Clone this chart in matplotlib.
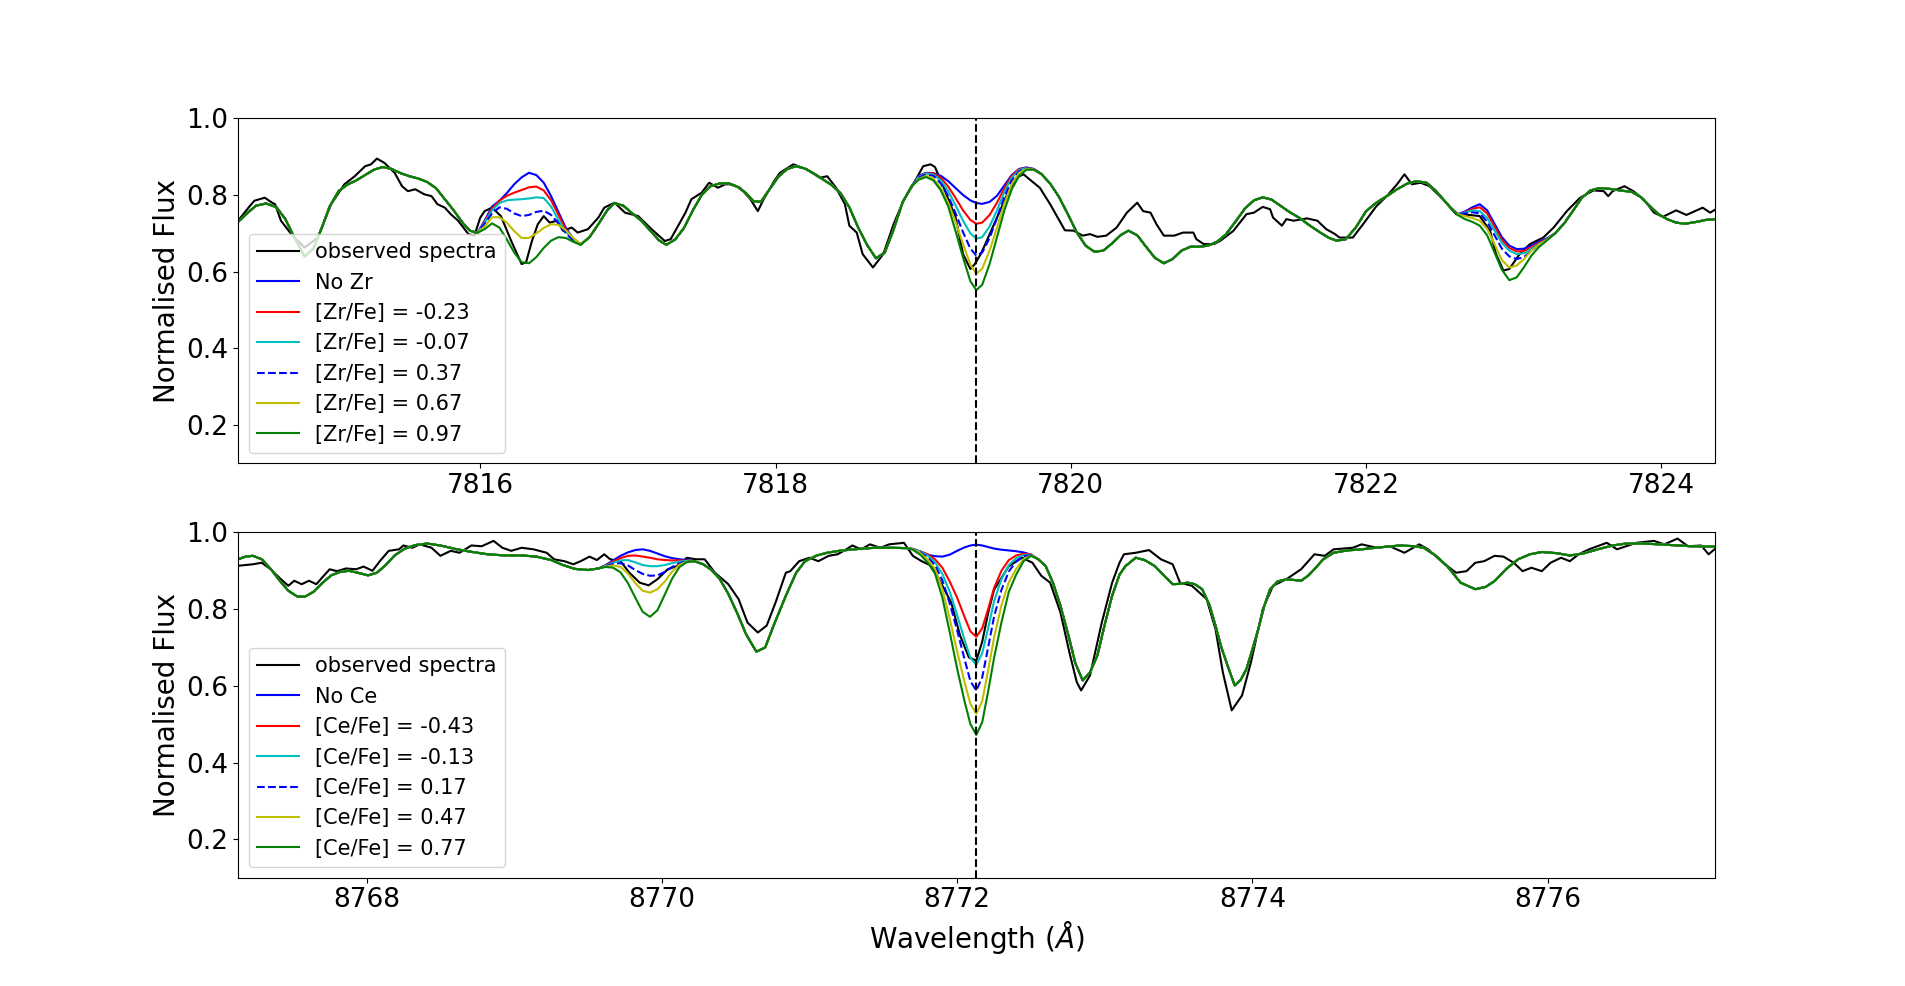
import numpy as np
import matplotlib
matplotlib.use("Agg")
import matplotlib.pyplot as plt

# ---------------- Top panel (Zr) ----------------
zr_line = 7819.36

zr_obs_wl = [7814.36, 7814.43, 7814.47, 7814.54, 7814.59, 7814.61, 7814.65, 7814.72, 7814.81, 7814.90,
             7814.99, 7815.08, 7815.15, 7815.22, 7815.26, 7815.30, 7815.35, 7815.42, 7815.47, 7815.51,
             7815.56, 7815.62, 7815.67, 7815.71, 7815.76, 7815.80, 7815.85, 7815.92, 7815.96, 7816.00,
             7816.03, 7816.08, 7816.14, 7816.21, 7816.28, 7816.31, 7816.35, 7816.39, 7816.43, 7816.47,
             7816.52, 7816.56, 7816.62, 7816.66, 7816.73, 7816.80, 7816.84, 7816.91, 7816.98, 7817.07,
             7817.16, 7817.25, 7817.29, 7817.39, 7817.43, 7817.50, 7817.55, 7817.61, 7817.66, 7817.69,
             7817.76, 7817.83, 7817.88, 7817.92, 7817.99, 7818.03, 7818.12, 7818.21, 7818.30, 7818.35,
             7818.41, 7818.47, 7818.50, 7818.55, 7818.59, 7818.66, 7818.73, 7818.80, 7818.87, 7818.92,
             7819.00, 7819.05, 7819.08, 7819.14, 7819.22, 7819.27, 7819.32, 7819.35, 7819.39, 7819.43,
             7819.50, 7819.57, 7819.63, 7819.68, 7819.72, 7819.79, 7819.86, 7819.93, 7819.96, 7820.02,
             7820.08, 7820.13, 7820.18, 7820.24, 7820.31, 7820.38, 7820.45, 7820.49, 7820.54, 7820.58,
             7820.63, 7820.70, 7820.76, 7820.83, 7820.85, 7820.90, 7820.97, 7821.01, 7821.10, 7821.19,
             7821.24, 7821.30, 7821.35, 7821.37, 7821.43, 7821.46, 7821.51, 7821.60, 7821.67, 7821.73,
             7821.79, 7821.82, 7821.91, 7821.98, 7822.07, 7822.14, 7822.21, 7822.26, 7822.31, 7822.37,
             7822.43, 7822.52, 7822.61, 7822.70, 7822.77, 7822.84, 7822.88, 7822.93, 7822.97, 7823.04,
             7823.11, 7823.20, 7823.27, 7823.36, 7823.45, 7823.54, 7823.61, 7823.64, 7823.67, 7823.75,
             7823.81, 7823.88, 7823.95, 7824.01, 7824.10, 7824.17, 7824.28, 7824.33, 7824.37]
zr_obs_fl = [0.733, 0.767, 0.785, 0.793, 0.780, 0.776, 0.733, 0.698, 0.663, 0.689,
             0.776, 0.828, 0.849, 0.875, 0.880, 0.895, 0.884, 0.858, 0.823, 0.810,
             0.815, 0.802, 0.797, 0.776, 0.767, 0.750, 0.733, 0.698, 0.694, 0.741,
             0.758, 0.767, 0.745, 0.680, 0.620, 0.624, 0.680, 0.724, 0.745, 0.728,
             0.733, 0.707, 0.715, 0.702, 0.711, 0.741, 0.767, 0.780, 0.754, 0.745,
             0.711, 0.680, 0.685, 0.754, 0.789, 0.806, 0.832, 0.819, 0.828, 0.828,
             0.819, 0.789, 0.758, 0.789, 0.836, 0.858, 0.880, 0.867, 0.845, 0.849,
             0.819, 0.776, 0.720, 0.702, 0.646, 0.611, 0.646, 0.724, 0.789, 0.819,
             0.875, 0.880, 0.873, 0.819, 0.741, 0.646, 0.607, 0.620, 0.646, 0.680,
             0.741, 0.802, 0.845, 0.854, 0.841, 0.819, 0.776, 0.728, 0.708, 0.707,
             0.694, 0.698, 0.691, 0.694, 0.715, 0.754, 0.780, 0.758, 0.754, 0.724,
             0.694, 0.694, 0.702, 0.702, 0.685, 0.672, 0.672, 0.680, 0.706, 0.750,
             0.754, 0.769, 0.763, 0.741, 0.720, 0.737, 0.733, 0.739, 0.733, 0.711,
             0.698, 0.689, 0.689, 0.724, 0.771, 0.797, 0.828, 0.854, 0.828, 0.832,
             0.823, 0.789, 0.750, 0.748, 0.745, 0.706, 0.646, 0.603, 0.607, 0.646,
             0.672, 0.689, 0.715, 0.758, 0.793, 0.812, 0.810, 0.797, 0.810, 0.823,
             0.810, 0.789, 0.754, 0.743, 0.760, 0.748, 0.767, 0.754, 0.763]

# common synthetic spectrum (identical for all Zr abundances outside the Zr features)
zr_base_wl = [7814.36, 7814.42, 7814.48, 7814.55, 7814.62, 7814.68, 7814.74, 7814.81, 7814.87, 7814.93,
              7814.98, 7815.04, 7815.10, 7815.16, 7815.22, 7815.28, 7815.34, 7815.40, 7815.46, 7815.52,
              7815.58, 7815.64, 7815.70, 7815.76, 7815.82, 7815.88, 7815.93,
              7816.74, 7816.80, 7816.86, 7816.91, 7816.97, 7817.03, 7817.09, 7817.15, 7817.21, 7817.26,
              7817.32, 7817.38, 7817.44, 7817.50, 7817.56, 7817.62, 7817.68, 7817.74, 7817.80, 7817.85,
              7817.90, 7817.96, 7818.02, 7818.08, 7818.14, 7818.20, 7818.26, 7818.32, 7818.38, 7818.44,
              7818.50, 7818.56, 7818.62, 7818.68, 7818.74, 7818.80, 7818.86, 7818.92,
              7819.80, 7819.86, 7819.92, 7819.98, 7820.04, 7820.10, 7820.16, 7820.22, 7820.28, 7820.34,
              7820.39, 7820.45, 7820.51, 7820.57, 7820.63, 7820.69, 7820.75, 7820.81, 7820.87, 7820.93,
              7820.99, 7821.05, 7821.12, 7821.18, 7821.24, 7821.30, 7821.36, 7821.42, 7821.48, 7821.55,
              7821.62, 7821.69, 7821.75, 7821.80, 7821.86, 7821.93, 7822.00, 7822.07, 7822.14, 7822.21,
              7822.28, 7822.34, 7822.41, 7822.47, 7822.52, 7822.57,
              7823.28, 7823.34, 7823.40, 7823.46, 7823.52, 7823.58, 7823.65, 7823.72, 7823.80, 7823.86,
              7823.92, 7823.98, 7824.04, 7824.10, 7824.16, 7824.24, 7824.30, 7824.37]
zr_base_fl = [0.730, 0.752, 0.772, 0.778, 0.768, 0.737, 0.690, 0.640, 0.660, 0.718,
              0.770, 0.810, 0.827, 0.838, 0.852, 0.866, 0.873, 0.868, 0.857, 0.849,
              0.843, 0.834, 0.818, 0.789, 0.760, 0.728, 0.707,
              0.690, 0.724, 0.760, 0.779, 0.772, 0.752, 0.733, 0.708, 0.682, 0.670,
              0.684, 0.714, 0.760, 0.800, 0.823, 0.830, 0.831, 0.822, 0.805, 0.784,
              0.782, 0.815, 0.848, 0.868, 0.875, 0.869, 0.856, 0.841, 0.826, 0.805,
              0.768, 0.715, 0.670, 0.635, 0.650, 0.710, 0.780, 0.822,
              0.855, 0.830, 0.795, 0.750, 0.703, 0.668, 0.652, 0.655, 0.674, 0.696,
              0.707, 0.695, 0.665, 0.636, 0.622, 0.633, 0.655, 0.665, 0.665, 0.668,
              0.678, 0.697, 0.733, 0.765, 0.786, 0.794, 0.788, 0.772, 0.756, 0.740,
              0.720, 0.702, 0.688, 0.681, 0.684, 0.715, 0.758, 0.780, 0.797, 0.815,
              0.830, 0.836, 0.832, 0.812, 0.790, 0.768,
              0.700, 0.725, 0.758, 0.792, 0.812, 0.818, 0.816, 0.812, 0.808, 0.795,
              0.772, 0.750, 0.737, 0.728, 0.725, 0.730, 0.735, 0.737]

# Zr-sensitive wavelength windows
zr_segA_wl = [7815.98, 7816.03, 7816.08, 7816.13, 7816.18, 7816.23, 7816.28, 7816.33,
              7816.38, 7816.43, 7816.48, 7816.53, 7816.58, 7816.63, 7816.68]
zr_segB_wl = [7818.97, 7819.02, 7819.07, 7819.12, 7819.17, 7819.22, 7819.27, 7819.32, 7819.36,
              7819.40, 7819.45, 7819.50, 7819.55, 7819.60, 7819.65, 7819.70, 7819.75]
zr_segC_wl = [7822.62, 7822.67, 7822.72, 7822.77, 7822.82, 7822.87, 7822.92, 7822.97,
              7823.02, 7823.07, 7823.12, 7823.17, 7823.22]

zr_labels = ["No Zr", "[Zr/Fe] = -0.23", "[Zr/Fe] = -0.07", "[Zr/Fe] = 0.37",
             "[Zr/Fe] = 0.67", "[Zr/Fe] = 0.97"]

noZr_A = [0.701, 0.733, 0.770, 0.785, 0.805, 0.828, 0.846, 0.858, 0.852, 0.832, 0.797, 0.755, 0.714, 0.686, 0.672]
zrm023_A = [0.701, 0.730, 0.765, 0.785, 0.798, 0.806, 0.813, 0.820, 0.822, 0.812, 0.786, 0.748, 0.710, 0.684, 0.671]
zrm007_A = [0.701, 0.728, 0.760, 0.779, 0.786, 0.788, 0.789, 0.791, 0.794, 0.792, 0.770, 0.735, 0.704, 0.682, 0.671]
zr037_A = [0.701, 0.725, 0.752, 0.768, 0.764, 0.752, 0.745, 0.748, 0.756, 0.759, 0.748, 0.726, 0.700, 0.681, 0.671]
zr067_A = [0.701, 0.718, 0.742, 0.742, 0.728, 0.706, 0.688, 0.688, 0.700, 0.714, 0.724, 0.722, 0.708, 0.688, 0.672]
zr097_A = [0.701, 0.711, 0.726, 0.715, 0.684, 0.650, 0.625, 0.622, 0.638, 0.662, 0.681, 0.690, 0.688, 0.678, 0.670]

noZr_B = [0.850, 0.858, 0.857, 0.850, 0.836, 0.818, 0.800, 0.786, 0.779, 0.777, 0.782, 0.798, 0.825, 0.852, 0.868, 0.872, 0.868]
zrm023_B = [0.848, 0.857, 0.856, 0.845, 0.822, 0.792, 0.760, 0.735, 0.725, 0.728, 0.748, 0.780, 0.818, 0.850, 0.867, 0.871, 0.867]
zrm007_B = [0.847, 0.856, 0.853, 0.838, 0.810, 0.773, 0.733, 0.700, 0.686, 0.690, 0.718, 0.760, 0.808, 0.845, 0.865, 0.870, 0.866]
zr037_B = [0.845, 0.854, 0.850, 0.830, 0.797, 0.752, 0.703, 0.660, 0.642, 0.650, 0.688, 0.740, 0.795, 0.838, 0.862, 0.869, 0.866]
zr067_B = [0.842, 0.850, 0.842, 0.818, 0.780, 0.730, 0.672, 0.618, 0.595, 0.608, 0.655, 0.715, 0.778, 0.828, 0.858, 0.868, 0.866]
zr097_B = [0.840, 0.847, 0.838, 0.812, 0.770, 0.705, 0.637, 0.575, 0.552, 0.566, 0.620, 0.690, 0.760, 0.815, 0.850, 0.866, 0.866]

noZr_C = [0.750, 0.757, 0.768, 0.776, 0.760, 0.725, 0.690, 0.668, 0.659, 0.660, 0.668, 0.678, 0.686]
zrm023_C = [0.750, 0.755, 0.764, 0.768, 0.752, 0.718, 0.683, 0.662, 0.653, 0.654, 0.664, 0.675, 0.684]
zrm007_C = [0.750, 0.754, 0.760, 0.758, 0.740, 0.708, 0.675, 0.655, 0.646, 0.648, 0.660, 0.672, 0.683]
zr037_C = [0.750, 0.752, 0.755, 0.752, 0.730, 0.695, 0.660, 0.640, 0.633, 0.638, 0.655, 0.670, 0.682]
zr067_C = [0.750, 0.745, 0.740, 0.733, 0.712, 0.672, 0.630, 0.611, 0.616, 0.633, 0.655, 0.670, 0.682]
zr097_C = [0.748, 0.737, 0.730, 0.720, 0.695, 0.650, 0.605, 0.578, 0.585, 0.612, 0.642, 0.664, 0.680]

# ---------------- Bottom panel (Ce) ----------------
ce_line = 8772.13

ce_obs_wl = [8767.13, 8767.23, 8767.29, 8767.35, 8767.42, 8767.47, 8767.51, 8767.56, 8767.61, 8767.66,
             8767.71, 8767.75, 8767.80, 8767.86, 8767.93, 8767.98, 8768.04, 8768.09, 8768.15, 8768.22,
             8768.25, 8768.31, 8768.36, 8768.44, 8768.50, 8768.57, 8768.63, 8768.71, 8768.78, 8768.86,
             8768.92, 8768.98, 8769.05, 8769.13, 8769.22, 8769.27, 8769.34, 8769.40, 8769.45, 8769.51,
             8769.56, 8769.61, 8769.65, 8769.72, 8769.78, 8769.85, 8769.91, 8769.97, 8770.04, 8770.10,
             8770.17, 8770.23, 8770.29, 8770.36, 8770.45, 8770.52, 8770.58, 8770.65, 8770.71, 8770.77,
             8770.84, 8770.87, 8770.93, 8771.00, 8771.06, 8771.13, 8771.19, 8771.25, 8771.29, 8771.35,
             8771.41, 8771.48, 8771.54, 8771.64, 8771.70, 8771.76, 8771.83, 8771.89, 8771.96, 8772.02,
             8772.08, 8772.13, 8772.17, 8772.21, 8772.25, 8772.35, 8772.44, 8772.51, 8772.57, 8772.63,
             8772.70, 8772.76, 8772.81, 8772.84, 8772.90, 8772.98, 8773.05, 8773.10, 8773.13, 8773.21,
             8773.30, 8773.38, 8773.46, 8773.51, 8773.59, 8773.69, 8773.75, 8773.80, 8773.86, 8773.93,
             8773.99, 8774.07, 8774.14, 8774.23, 8774.33, 8774.42, 8774.49, 8774.55, 8774.68, 8774.74,
             8774.84, 8774.93, 8775.03, 8775.13, 8775.19, 8775.29, 8775.38, 8775.45, 8775.51, 8775.57,
             8775.64, 8775.70, 8775.77, 8775.83, 8775.89, 8775.96, 8776.02, 8776.09, 8776.15, 8776.21,
             8776.28, 8776.40, 8776.47, 8776.60, 8776.72, 8776.79, 8776.88, 8776.95, 8777.04, 8777.09,
             8777.13]
ce_obs_fl = [0.913, 0.917, 0.921, 0.904, 0.878, 0.861, 0.874, 0.865, 0.874, 0.865,
             0.887, 0.904, 0.899, 0.906, 0.904, 0.911, 0.900, 0.925, 0.952, 0.956,
             0.966, 0.960, 0.969, 0.960, 0.939, 0.952, 0.947, 0.966, 0.964, 0.978,
             0.960, 0.952, 0.960, 0.956, 0.947, 0.930, 0.925, 0.917, 0.925, 0.937,
             0.928, 0.943, 0.930, 0.925, 0.895, 0.869, 0.862, 0.878, 0.904, 0.912,
             0.934, 0.930, 0.930, 0.895, 0.865, 0.826, 0.765, 0.739, 0.757, 0.817,
             0.895, 0.899, 0.925, 0.934, 0.925, 0.939, 0.943, 0.956, 0.966, 0.956,
             0.969, 0.960, 0.969, 0.973, 0.939, 0.925, 0.912, 0.869, 0.817, 0.731,
             0.674, 0.666, 0.715, 0.790, 0.850, 0.912, 0.934, 0.921, 0.887, 0.869,
             0.791, 0.688, 0.610, 0.588, 0.627, 0.765, 0.869, 0.921, 0.943, 0.947,
             0.954, 0.930, 0.917, 0.869, 0.861, 0.826, 0.748, 0.635, 0.536, 0.575,
             0.661, 0.800, 0.861, 0.878, 0.904, 0.943, 0.939, 0.956, 0.960, 0.969,
             0.960, 0.964, 0.947, 0.969, 0.956, 0.921, 0.895, 0.899, 0.921, 0.925,
             0.939, 0.937, 0.921, 0.899, 0.908, 0.899, 0.921, 0.934, 0.925, 0.943,
             0.956, 0.973, 0.956, 0.973, 0.978, 0.969, 0.984, 0.964, 0.966, 0.943,
             0.956]

ce_base_wl = [8767.13, 8767.18, 8767.23, 8767.29, 8767.35, 8767.41, 8767.47, 8767.53, 8767.58, 8767.64,
              8767.70, 8767.76, 8767.82, 8767.88, 8767.94, 8768.01, 8768.07, 8768.13, 8768.19, 8768.26,
              8768.33, 8768.41, 8768.50, 8768.60, 8768.70, 8768.82, 8768.94, 8769.05, 8769.15, 8769.25,
              8769.33, 8769.41, 8769.50, 8769.57,
              8770.28, 8770.33, 8770.39, 8770.45, 8770.51, 8770.57, 8770.64, 8770.70, 8770.76, 8770.84,
              8770.91, 8770.97, 8771.05, 8771.12, 8771.20, 8771.30, 8771.44, 8771.56, 8771.66,
              8772.55, 8772.60, 8772.65, 8772.70, 8772.76, 8772.80, 8772.85, 8772.90, 8772.95, 8773.00,
              8773.05, 8773.10, 8773.14, 8773.21, 8773.27, 8773.34, 8773.40, 8773.46, 8773.51, 8773.56,
              8773.61, 8773.66, 8773.71, 8773.75, 8773.79, 8773.83, 8773.88, 8773.92, 8773.96, 8774.00,
              8774.04, 8774.08, 8774.12, 8774.17, 8774.23, 8774.28, 8774.33, 8774.38, 8774.42, 8774.48,
              8774.55, 8774.64, 8774.74, 8774.86, 8775.00, 8775.10, 8775.16, 8775.24, 8775.32, 8775.41,
              8775.51, 8775.58, 8775.64, 8775.72, 8775.80, 8775.88, 8775.96, 8776.06, 8776.15, 8776.24,
              8776.34, 8776.44, 8776.53, 8776.64, 8776.76, 8776.88, 8776.98, 8777.13]
ce_base_fl = [0.930, 0.937, 0.939, 0.930, 0.905, 0.875, 0.848, 0.833, 0.832, 0.845,
              0.868, 0.888, 0.897, 0.900, 0.895, 0.888, 0.895, 0.915, 0.940, 0.958,
              0.967, 0.971, 0.966, 0.957, 0.950, 0.943, 0.940, 0.940, 0.937, 0.928,
              0.915, 0.905, 0.902, 0.906,
              0.917, 0.904, 0.880, 0.840, 0.790, 0.735, 0.689, 0.700, 0.760, 0.835,
              0.895, 0.925, 0.940, 0.947, 0.952, 0.956, 0.960, 0.960, 0.959,
              0.930, 0.912, 0.868, 0.809, 0.722, 0.660, 0.614, 0.635, 0.679, 0.760,
              0.835, 0.890, 0.912, 0.934, 0.928, 0.912, 0.888, 0.865, 0.866, 0.869,
              0.865, 0.852, 0.810, 0.757, 0.700, 0.655, 0.601, 0.615, 0.644, 0.695,
              0.748, 0.808, 0.852, 0.872, 0.878, 0.876, 0.874, 0.888, 0.904, 0.930,
              0.947, 0.953, 0.956, 0.961, 0.966, 0.964, 0.960, 0.940, 0.912, 0.869,
              0.852, 0.858, 0.873, 0.905, 0.930, 0.943, 0.949, 0.946, 0.940, 0.945,
              0.956, 0.966, 0.971, 0.971, 0.969, 0.966, 0.964, 0.963]

ce_segD_wl = [8769.62, 8769.67, 8769.72, 8769.77, 8769.82, 8769.87, 8769.92, 8769.97,
              8770.02, 8770.07, 8770.12, 8770.17, 8770.22]
ce_segE_wl = [8771.70, 8771.75, 8771.80, 8771.85, 8771.90, 8771.95, 8772.00, 8772.05, 8772.09,
              8772.13, 8772.17, 8772.21, 8772.25, 8772.30, 8772.35, 8772.40, 8772.45, 8772.50]

ce_labels = ["No Ce", "[Ce/Fe] = -0.43", "[Ce/Fe] = -0.13", "[Ce/Fe] = 0.17",
             "[Ce/Fe] = 0.47", "[Ce/Fe] = 0.77"]

noCe_D = [0.915, 0.927, 0.939, 0.948, 0.954, 0.956, 0.952, 0.945, 0.938, 0.933, 0.930, 0.928, 0.925]
cem043_D = [0.914, 0.924, 0.933, 0.939, 0.940, 0.937, 0.934, 0.930, 0.928, 0.927, 0.927, 0.926, 0.925]
cem013_D = [0.913, 0.921, 0.927, 0.928, 0.922, 0.915, 0.912, 0.912, 0.915, 0.920, 0.924, 0.926, 0.925]
ce017_D = [0.912, 0.918, 0.920, 0.914, 0.902, 0.892, 0.887, 0.888, 0.897, 0.910, 0.920, 0.925, 0.925]
ce047_D = [0.911, 0.914, 0.910, 0.893, 0.868, 0.848, 0.843, 0.852, 0.872, 0.898, 0.916, 0.924, 0.925]
ce077_D = [0.910, 0.908, 0.896, 0.868, 0.830, 0.793, 0.780, 0.797, 0.838, 0.880, 0.910, 0.923, 0.925]

noCe_E = [0.957, 0.950, 0.942, 0.938, 0.937, 0.942, 0.952, 0.961, 0.966, 0.968, 0.966, 0.962, 0.958, 0.955, 0.953, 0.951, 0.948, 0.942]
cem043_E = [0.957, 0.951, 0.943, 0.930, 0.908, 0.872, 0.830, 0.780, 0.742, 0.728, 0.750, 0.800, 0.855, 0.900, 0.928, 0.940, 0.944, 0.943]
cem013_E = [0.957, 0.950, 0.940, 0.922, 0.892, 0.845, 0.785, 0.720, 0.673, 0.655, 0.685, 0.750, 0.820, 0.878, 0.915, 0.933, 0.941, 0.942]
ce017_E = [0.956, 0.948, 0.935, 0.915, 0.875, 0.815, 0.745, 0.670, 0.612, 0.588, 0.622, 0.700, 0.780, 0.850, 0.898, 0.925, 0.938, 0.941]
ce047_E = [0.956, 0.946, 0.930, 0.905, 0.852, 0.775, 0.690, 0.610, 0.553, 0.527, 0.560, 0.640, 0.725, 0.810, 0.870, 0.905, 0.930, 0.940]
ce077_E = [0.955, 0.942, 0.922, 0.893, 0.830, 0.740, 0.645, 0.560, 0.500, 0.472, 0.505, 0.585, 0.672, 0.765, 0.845, 0.890, 0.925, 0.939]


def build(base_wl, base_fl, segments):
    """Merge the common synthetic spectrum with abundance-specific windows."""
    wl = np.asarray(base_wl, float)
    fl = np.asarray(base_fl, float)
    parts_wl, parts_fl = [wl], [fl]
    for sw, sf in segments:
        parts_wl.append(np.asarray(sw, float))
        parts_fl.append(np.asarray(sf, float))
    allw = np.concatenate(parts_wl)
    allf = np.concatenate(parts_fl)
    order = np.argsort(allw)
    return allw[order], allf[order]


zr_models = [
    [(zr_segA_wl, noZr_A), (zr_segB_wl, noZr_B), (zr_segC_wl, noZr_C)],
    [(zr_segA_wl, zrm023_A), (zr_segB_wl, zrm023_B), (zr_segC_wl, zrm023_C)],
    [(zr_segA_wl, zrm007_A), (zr_segB_wl, zrm007_B), (zr_segC_wl, zrm007_C)],
    [(zr_segA_wl, zr037_A), (zr_segB_wl, zr037_B), (zr_segC_wl, zr037_C)],
    [(zr_segA_wl, zr067_A), (zr_segB_wl, zr067_B), (zr_segC_wl, zr067_C)],
    [(zr_segA_wl, zr097_A), (zr_segB_wl, zr097_B), (zr_segC_wl, zr097_C)],
]
ce_models = [
    [(ce_segD_wl, noCe_D), (ce_segE_wl, noCe_E)],
    [(ce_segD_wl, cem043_D), (ce_segE_wl, cem043_E)],
    [(ce_segD_wl, cem013_D), (ce_segE_wl, cem013_E)],
    [(ce_segD_wl, ce017_D), (ce_segE_wl, ce017_E)],
    [(ce_segD_wl, ce047_D), (ce_segE_wl, ce047_E)],
    [(ce_segD_wl, ce077_D), (ce_segE_wl, ce077_E)],
]

styles = ['b-', 'r-', 'c-', 'b--', 'y-', 'g-']

fig, axes = plt.subplots(2, 1, figsize=(19.05, 9.86), dpi=100)
fig.subplots_adjust(left=0.125, right=0.9, top=0.88, bottom=0.11, hspace=0.2)

panels = [
    (axes[0], zr_obs_wl, zr_obs_fl, zr_base_wl, zr_base_fl, zr_models, zr_labels, zr_line),
    (axes[1], ce_obs_wl, ce_obs_fl, ce_base_wl, ce_base_fl, ce_models, ce_labels, ce_line),
]

for ax, ow, of, bw, bf, models, labels, line in panels:
    ax.plot(ow, of, 'k-', lw=1.5, label='observed spectra')
    for segs, lab, st in zip(models, labels, styles):
        w, f = build(bw, bf, segs)
        ax.plot(w, f, st, lw=1.5, label=lab)
    ax.axvline(line, color='k', ls='--', lw=1.5)
    ax.set_xlim(line - 5, line + 5)
    ax.set_ylim(0.1, 1.0)
    ax.set_ylabel('Normalised Flux', fontsize=20)
    ax.tick_params(labelsize=19)
    ax.legend(loc='lower left', fontsize=15)

axes[1].set_xlabel(r'Wavelength ($\AA$)', fontsize=20)

fig.savefig('out.png', dpi=100)
